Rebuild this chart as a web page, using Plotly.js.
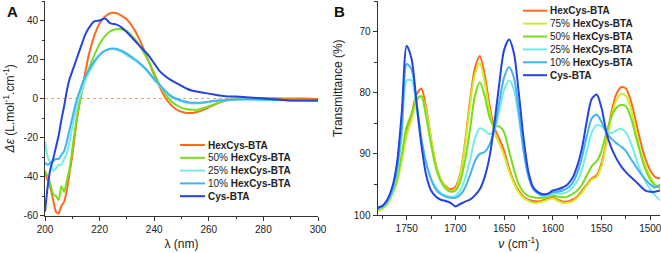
<!DOCTYPE html>
<html><head><meta charset="utf-8">
<script src="https://cdn.plot.ly/plotly-3.0.1.min.js"></script>
<style>html,body{margin:0;padding:0;background:#fff}#chart{width:661px;height:253px}</style>
</head><body><div id="chart"></div>
<script>
// ---------- Panel A: CD spectra ----------
const namesA = ['HexCys-BTA','50% HexCys-BTA','25% HexCys-BTA','10% HexCys-BTA','Cys-BTA'];
const colorsA = ['#ff6a1a','#77dd1e','#74ece6','#45b2f2','#2443e0'];
const wavelength = [200,201,202,203,204,205,206,207,208,209,210,211,212,213,214,215,216,218,220,222,224,226,228,230,232,234,236,238,240,242,244,246,248,250,252,254,256,258,260,262,264,266,268,270,275,280,285,290,295,300];
const cdHex100 = [-38,-42,-46,-52,-58,-59,-55,-53,-47,-38,-29,-18,-8,0,8,15,22,32,38.5,42,43.8,43.8,42.5,40.5,37,32,26,19,12,6,0.5,-3,-5.5,-6.8,-7.4,-7.4,-6.8,-5.8,-4.5,-3.2,-2,-1,-0.4,0,0.2,0.3,0.1,0,0,-0.3];
const cdHex50 = [-37,-40,-44,-49,-50,-52,-45,-48,-42,-36,-26,-16,-7,0,6,11,15,22,28,32,34.5,35.5,35.5,34.5,32,28.5,24,19,13,7,2.5,-1,-3.3,-4.8,-5.5,-5.8,-5.7,-5,-4,-3,-2,-1.2,-0.6,-0.3,-0.2,-0.3,-0.5,-0.6,-0.8,-1];
const cdHex25 = [-22,-30,-33,-37,-36,-34,-34,-31,-28,-22,-15,-8,-2,2,6,10,13,18,22,24.5,25.5,25,24,22,20.5,18.5,16,13,9.5,6.5,3.5,1,-0.5,-1.5,-2.3,-2.5,-2.5,-2.2,-1.8,-1.3,-1,-0.8,-0.6,-0.5,-0.5,-0.6,-0.8,-0.8,-0.9,-1];
const cdHex10 = [-33,-34,-33,-32,-31,-31,-29,-27,-22,-16,-10,-4,1,5,9,12,14.5,19,22.5,24.5,25.5,25.5,24.5,23,21,19,16.5,13.5,10,7,4,1.5,0,-1,-1.8,-2.2,-2.2,-2,-1.6,-1.2,-1,-0.8,-0.6,-0.5,-0.4,-0.6,-0.8,-1,-1,-1];
const cdCys = [-58,-45,-36,-31,-25,-19,-11,-4,4,10,14,18,22,26,30,33.5,36,39.5,40,41,38.5,38,36.5,34,31,28,25,22,18,14,11.5,9.5,8,6.5,5,4,3.5,3,2.5,2,1.5,1.2,1,1,0.5,0,-0.5,-1,-1,-1];
const seriesA = [cdHex100, cdHex50, cdHex25, cdHex10, cdCys];
const yTickValsA = [-60,-40,-20,0,20,40];
const yTickTextA = ['-60','-40','-20','0','20','40'];
const xTickValsA = [200,220,240,260,280,300];

// ---------- Panel B: IR spectra ----------
const namesB = ['HexCys-BTA','75% HexCys-BTA','50% HexCys-BTA','25% HexCys-BTA','10% HexCys-BTA','Cys-BTA'];
const colorsB = ['#ff6a1a','#d2ec2c','#77dd1e','#74ece6','#45b2f2','#2443e0'];
const wavenumber = [1780,1775,1770,1765,1760,1755,1750,1745,1740,1735,1730,1725,1720,1715,1710,1705,1700,1695,1690,1685,1680,1675,1670,1665,1660,1655,1650,1645,1640,1635,1630,1625,1620,1615,1610,1605,1600,1595,1590,1585,1580,1575,1570,1565,1560,1555,1550,1545,1540,1535,1530,1525,1520,1515,1510,1505,1500,1495,1490];
const irHex100 = [99.1,98.8,98.1,96.5,94.5,90.5,86,83.5,80.3,79.3,82.5,87.5,91.8,94.2,95.3,95.8,95.4,93.2,88,81.3,76,74,77,82,85.8,87.5,89.5,92.3,94.5,96,97,97.5,97.7,97.8,97.6,97.3,97.1,97.5,97.8,97.8,97.5,97,96,95,94,93.5,91.5,88,83.3,80.3,79.1,79.3,81.3,84.5,88,90.8,92.7,93.8,94];
const irHex75 = [99.4,99,98.3,96.8,94.5,91,87,84.5,81.5,80.5,83,87.5,91.8,94.2,95.5,96.1,95.8,93.5,88.5,82,77,75.2,78.2,83,86.5,88.3,90.3,92.8,94.8,96.3,97.2,97.7,98,98,97.8,97.5,97.3,97.7,98,98,97.8,97.2,96.3,95.2,94.2,93.8,92,88.5,84,81.3,80.2,80.5,82.5,86,89.5,92,93.7,95,95.6];
const irHex50 = [99.1,98.8,98,96.5,94,90,85.5,83.5,81,80.6,84,88.5,92.3,94.5,95.7,96.2,96,94.5,91,86,80.5,78.3,80.5,84,85.5,85.5,86.5,89.5,92.5,95,96.3,96.9,97.1,97.2,97.2,97,96.8,97,97.1,97,96.6,96,95,93.5,92,91.2,89.5,86.5,84,82.5,82,82.2,84,87,90,92.5,94.2,95.2,95.5];
const irHex25 = [99,98.7,98,96.3,93,87,78,78,82.5,87.5,91.5,94,95.5,96.4,96.8,97,96.9,96,94,91,87.5,85.8,86.2,86.8,86,83,79.5,78,79.5,84,89.5,93.5,95.6,96.5,96.9,96.8,96.5,96.5,96.5,96.2,95.5,94.5,92.5,89.5,86.5,85.3,85.5,86.3,86.6,86.2,85.9,86.5,88.2,90.5,92.8,94.5,95.8,96.8,97.6];
const irHex10 = [98.9,98.6,97.8,96,92.5,85.5,75.3,76.2,81.5,87.5,91.5,94.2,95.8,96.6,97,97.2,97.2,96.7,95.5,93.5,91.2,90,89.7,88.5,86,81.5,77.5,75.8,77.5,83,89.5,93.8,95.8,96.5,96.8,96.6,96.3,96.2,96,95.6,94.8,93.2,90.5,87,84.2,83.6,84.8,86.5,87.5,88.2,88.8,89.5,90.8,92,93.2,94.2,95,95.5,95];
const irCys = [98.8,98.5,97.5,95.5,91.5,83,72.3,74.5,81.5,88.5,93.5,96,97,97.5,97.7,98,98.6,98.2,97.8,97.5,96.8,95.8,93.8,90.5,85,78.5,73,71.3,73.5,80,87.5,93,95.5,96.3,96.6,96.5,96,95.8,95.5,95,94,92,89,84.5,81,80.3,82.5,86.5,89,90.7,92,93,93.8,94.5,95.3,96,96.2,96.2,96];
const seriesB = [irHex100, irHex75, irHex50, irHex25, irHex10, irCys];

const W = 661, H = 253;
const px = x => x / W, py = y => 1 - y / H;
const fontFam = '"Liberation Sans", Arial, sans-serif';
const ink = '#222';

const traces = [];
seriesA.forEach((ys, i) => traces.push({
  x: wavelength, y: ys, xaxis: 'x', yaxis: 'y', type: 'scatter', mode: 'lines',
  name: namesA[i], line: {color: colorsA[i], width: 2, shape: 'spline', smoothing: 0.6}, showlegend: false
}));
seriesB.forEach((ys, i) => traces.push({
  x: wavenumber, y: ys, xaxis: 'x2', yaxis: 'y2', type: 'scatter', mode: 'lines',
  name: namesB[i], line: {color: colorsB[i], width: 2, shape: 'spline', smoothing: 0.8}, showlegend: false
}));

function legendLabel(n) {
  const parts = n.split(' ');
  return parts.length > 1 ? parts[0] + ' <b>' + parts.slice(1).join(' ') + '</b>' : '<b>' + n + '</b>';
}
const shapes = [{type: 'line', xref: 'x', yref: 'y', x0: 200, x1: 300, y0: 0, y1: 0,
  line: {color: '#f4a070', width: 1.2, dash: 'dot'}, layer: 'below'}];
const annotations = [];
function addLegend(names, colors, lx0, lx1, tx, y0, dy) {
  names.forEach((n, i) => {
    const y = y0 + i * dy;
    shapes.push({type: 'line', xref: 'paper', yref: 'paper', x0: px(lx0), x1: px(lx1), y0: py(y), y1: py(y),
      line: {color: colors[i], width: 2}});
    annotations.push({xref: 'paper', yref: 'paper', x: px(tx), y: py(y), xanchor: 'left', yanchor: 'middle',
      text: legendLabel(n), showarrow: false, font: {family: fontFam, size: 10, color: ink}});
  });
}
addLegend(namesA, colorsA, 180, 205, 206, 145, 12.8);
addLegend(namesB, colorsB, 523, 547, 548, 10.7, 12.9);

annotations.push({xref: 'paper', yref: 'paper', x: px(5), y: py(12), xanchor: 'left', yanchor: 'middle',
  text: '<b>A</b>', showarrow: false, font: {family: fontFam, size: 15, color: '#111'}});
annotations.push({xref: 'paper', yref: 'paper', x: px(332), y: py(12), xanchor: 'left', yanchor: 'middle',
  text: '<b>B</b>', showarrow: false, font: {family: fontFam, size: 15, color: '#111'}});
annotations.push({xref: 'paper', yref: 'paper', x: px(338), y: py(88), xanchor: 'center', yanchor: 'middle', textangle: -90,
  text: 'Transmittance (%)', showarrow: false, font: {family: fontFam, size: 12, color: ink}});

const titleFont = {family: fontFam, size: 12, color: ink};
const axisBase = {showline: true, linecolor: '#333', linewidth: 1, showgrid: false, zeroline: false,
  ticks: 'outside', ticklen: 4, tickcolor: '#333', tickfont: {family: fontFam, size: 10, color: ink},
  fixedrange: true, ticklabeloverflow: 'allow'};

const layout = {
  width: W, height: H, margin: {l: 0, r: 0, t: 0, b: 0}, paper_bgcolor: '#fff', plot_bgcolor: '#fff',
  showlegend: false,
  xaxis: Object.assign({}, axisBase, {domain: [px(45), px(318)], range: [200, 300], tickmode: 'array', tickvals: xTickValsA,
    minor: {dtick: 10, tick0: 0, ticks: 'outside', ticklen: 2.5, tickcolor: '#333'}, anchor: 'y',
    title: {text: 'λ (nm)', font: titleFont, standoff: 6}}),
  yaxis: Object.assign({}, axisBase, {domain: [py(215.5), py(1)], range: [-60, 50], tickmode: 'array', tickvals: yTickValsA, ticktext: yTickTextA,
    minor: {dtick: 10, tick0: 0, ticks: 'outside', ticklen: 2.5, tickcolor: '#333'}, anchor: 'x',
    title: {text: '<i>Δε</i> (L.mol<sup>-1</sup>.cm<sup>-1</sup>)', font: titleFont, standoff: 6}}),
  xaxis2: Object.assign({}, axisBase, {domain: [px(377.5), px(660)], range: [1780, 1490], dtick: 50, tick0: 1500,
    minor: {dtick: 25, tick0: 1500, ticks: 'outside', ticklen: 2.5, tickcolor: '#333'}, anchor: 'y2',
    title: {text: '<i>ν</i> (cm<sup>-1</sup>)', font: titleFont, standoff: 6}}),
  yaxis2: Object.assign({}, axisBase, {domain: [py(215), py(1)], range: [100, 65], dtick: 10, tick0: 70,
    minor: {dtick: 5, tick0: 65, ticks: 'outside', ticklen: 2.5, tickcolor: '#333'}, anchor: 'x2'}),
  shapes: shapes, annotations: annotations
};
Plotly.newPlot('chart', traces, layout, {displayModeBar: false, staticPlot: true});
</script></body></html>
